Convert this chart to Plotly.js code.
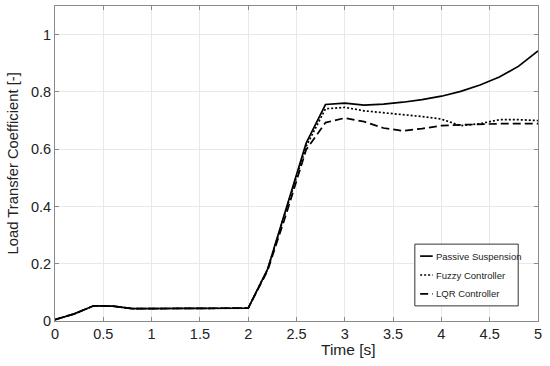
<!DOCTYPE html>
<html><head><meta charset="utf-8">
<script src="https://cdn.plot.ly/plotly-3.0.1.min.js"></script>
<style>html,body{margin:0;padding:0;background:#fff}#chart{width:550px;height:366px}</style>
</head><body><div id="chart"></div>
<script>
const time = [0,0.2,0.4,0.6,0.8,1.0,1.2,1.4,1.6,1.8,2.0,2.2,2.4,2.6,2.8,3.0,3.2,3.4,3.6,3.8,4.0,4.2,4.4,4.6,4.8,5.0];
const passive = [0.005,0.025,0.053,0.052,0.043,0.043,0.045,0.045,0.045,0.045,0.045,0.18,0.40,0.621,0.756,0.761,0.754,0.757,0.764,0.773,0.785,0.802,0.824,0.852,0.89,0.943];
const fuzzy   = [0.005,0.025,0.053,0.052,0.043,0.043,0.045,0.045,0.045,0.045,0.045,0.18,0.395,0.61,0.741,0.746,0.734,0.728,0.722,0.714,0.705,0.682,0.689,0.703,0.703,0.700];
const lqr     = [0.005,0.025,0.053,0.052,0.043,0.043,0.045,0.045,0.045,0.045,0.045,0.175,0.38,0.598,0.693,0.709,0.696,0.674,0.664,0.672,0.682,0.685,0.688,0.689,0.689,0.689];
const seriesNames = ['Passive Suspension','Fuzzy Controller','LQR Controller'];
const xTicks = [0,0.5,1,1.5,2,2.5,3,3.5,4,4.5,5];
const yTicks = [0,0.2,0.4,0.6,0.8,1];
const xTitle = 'Time [s]';
const yTitle = 'Load Transfer Coefficient [-]';

const dashes = ['solid','2px,2px','8px,4px'];
const FONT = 'Liberation Sans, Arial, Helvetica, sans-serif';
const ys = [passive, fuzzy, lqr];
const traces = ys.map((y,i)=>({x:time,y:y,type:'scatter',mode:'lines',name:seriesNames[i],
  line:{color:'#000',width:1.7,dash:dashes[i]},showlegend:false}));

// manual legend box
const legX0=0.745, legX1=0.959, legY0=0.048, legY1=0.244;
const rowY=[0.206,0.146,0.086];
const shapes=[{type:'rect',xref:'paper',yref:'paper',x0:legX0,x1:legX1,y0:legY0,y1:legY1,
  line:{color:'#333',width:1},fillcolor:'#fff',layer:'above'}];
const annotations=[];
seriesNames.forEach((n,i)=>{
  shapes.push({type:'line',xref:'paper',yref:'paper',x0:0.756,x1:0.782,y0:rowY[i],y1:rowY[i],
    line:{color:'#000',width:1.7,dash:dashes[i]},layer:'above'});
  annotations.push({xref:'paper',yref:'paper',x:0.785,y:rowY[i],xanchor:'left',yanchor:'middle',
    text:n,showarrow:false,font:{family:FONT,size:9.5,color:'#222'}});
});
// axis titles
annotations.push({xref:'paper',yref:'paper',x:0.607,y:-0.092,xanchor:'center',yanchor:'middle',
  text:xTitle,showarrow:false,font:{family:FONT,size:15.5,color:'#222'}});
annotations.push({xref:'paper',yref:'paper',x:-0.087,y:0.5,xanchor:'center',yanchor:'middle',textangle:-90,
  text:yTitle,showarrow:false,font:{family:FONT,size:14.8,color:'#222'}});

const axCommon={showgrid:true,gridcolor:'#e8e8e8',gridwidth:1,zeroline:false,showline:true,
  linecolor:'#8a8a8a',linewidth:1,mirror:'allticks',ticks:'inside',ticklen:4,tickcolor:'#8a8a8a',
  tickfont:{family:FONT,size:14.5,color:'#222'}};

const layout={width:550,height:366,margin:{l:55,r:12,t:6,b:45},paper_bgcolor:'#fff',plot_bgcolor:'#fff',
  xaxis:Object.assign({},axCommon,{range:[0,5],tickvals:xTicks,ticktext:xTicks.map(String)}),
  yaxis:Object.assign({},axCommon,{range:[0,1.1],tickvals:yTicks,ticktext:yTicks.map(String)}),
  shapes:shapes,annotations:annotations,showlegend:false};

Plotly.newPlot('chart',traces,layout,{staticPlot:true});
</script></body></html>
